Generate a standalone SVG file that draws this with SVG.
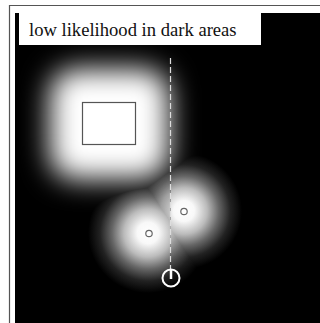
<svg xmlns="http://www.w3.org/2000/svg" width="320" height="323" viewBox="0 0 320 323">
<defs>
<style>
.frame{fill:none;stroke:#555;stroke-width:1.2}
.obst{fill:#fff;stroke:#555;stroke-width:1.2}
.beacon{fill:none;stroke:#666;stroke-width:1.2}
.path{stroke:#ddd;stroke-width:1.2;stroke-dasharray:6 3;fill:none}
.robot{fill:none;stroke:#fff;stroke-width:2}
.label{font-family:"Liberation Serif","Times New Roman",serif;font-size:18.6px;fill:#111}
.lt{mix-blend-mode:lighten}
</style>
<filter id="blur" x="-50%" y="-50%" width="200%" height="200%"><feGaussianBlur stdDeviation="14"/></filter>
<radialGradient id="glow">
<stop offset="0" stop-color="#fff"/>
<stop offset="0.18" stop-color="#f8f8f8"/>
<stop offset="0.4" stop-color="#bbb"/>
<stop offset="0.6" stop-color="#666"/>
<stop offset="0.8" stop-color="#222"/>
<stop offset="1" stop-color="#000"/>
</radialGradient>
<clipPath id="leftHalf"><rect x="0" y="0" width="170.5" height="323"/></clipPath>
<clipPath id="rightHalf"><rect x="170.5" y="0" width="150" height="323"/></clipPath>
</defs>
<rect width="320" height="323" fill="#fff"/>
<path class="frame" d="M9.5 323 V5.5 H320"/>
<g id="field" style="isolation:isolate">
<rect x="15" y="13" width="305" height="310" fill="#000"/>
<rect x="50" y="69" width="119" height="110" rx="26" fill="#fff" filter="url(#blur)"/>
<circle class="lt" cx="184" cy="211" r="58" fill="url(#glow)" clip-path="url(#rightHalf)"/>
<circle class="lt" cx="184" cy="211" r="58" fill="url(#glow)" clip-path="url(#leftHalf)" opacity="0.85"/>
<circle class="lt" cx="148" cy="233" r="60" fill="url(#glow)" clip-path="url(#leftHalf)"/>
<circle class="lt" cx="148" cy="233" r="60" fill="url(#glow)" clip-path="url(#rightHalf)" opacity="0.75"/>
</g>
<g id="title">
<rect x="19" y="13" width="242" height="32" fill="#fff"/>
<text class="label" x="29" y="36">low likelihood in dark areas</text>
</g>
<g id="connectors">
<line class="path" x1="170.5" y1="58" x2="170.5" y2="270"/>
</g>
<g id="obstacle"><rect class="obst" x="82.5" y="102.5" width="53" height="42"/></g>
<g id="beacon1"><circle class="beacon" cx="184" cy="211.5" r="3.2"/></g>
<g id="beacon2"><circle class="beacon" cx="149" cy="233.5" r="3.2"/></g>
<g id="robot">
<circle class="robot" cx="171" cy="278" r="8.5"/>
<line x1="171" y1="270" x2="171" y2="279" stroke="#fff" stroke-width="2.5"/>
</g>
</svg>
